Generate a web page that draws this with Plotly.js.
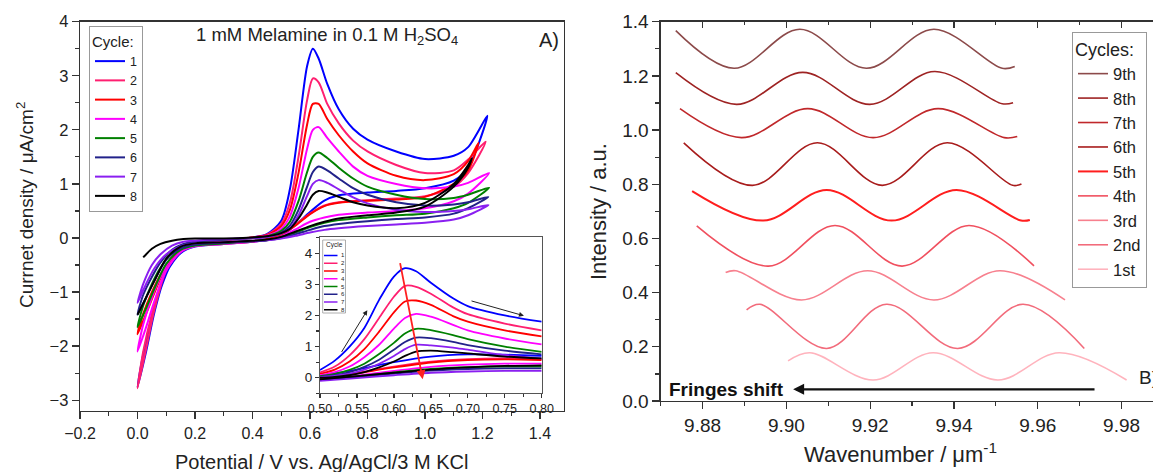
<!DOCTYPE html>
<html><head><meta charset="utf-8">
<script src="https://cdn.plot.ly/plotly-3.0.1.min.js"></script>
<style>html,body{margin:0;padding:0;background:#fff;}#chart{width:1153px;height:472px;}</style>
</head><body><div id="chart"></div>
<script>
// ---------- Panel A: cyclic voltammograms ----------
const cycleLabels = ['1','2','3','4','5','6','7','8'];
const cycleColors = ['#0000ff','#ff1f70','#ff0000','#ff00ff','#008000','#22228a','#8a1ff0','#000000'];

const fwdPotential = [0, 0.02, 0.05, 0.08, 0.12, 0.16, 0.2, 0.3, 0.4, 0.45, 0.5, 0.53, 0.56, 0.59, 0.61, 0.63, 0.66, 0.7, 0.75, 0.8, 0.9, 1.0, 1.1, 1.15];
const fwdC1 = [-2.76, -2.15, -1.5, -0.95, -0.45, -0.22, -0.12, -0.04, 0.01, 0.07, 0.32, 0.9, 2.0, 3.18, 3.5, 3.32, 2.85, 2.38, 2.02, 1.82, 1.6, 1.46, 1.52, 1.68];
const fwdC2 = [-2.78, -2.1, -1.4, -0.85, -0.4, -0.2, -0.11, -0.04, 0.01, 0.06, 0.26, 0.65, 1.5, 2.55, 2.95, 2.88, 2.48, 2.12, 1.8, 1.6, 1.35, 1.2, 1.25, 1.45];
const fwdC3 = [-1.78, -1.4, -1.0, -0.68, -0.35, -0.18, -0.1, -0.04, 0.01, 0.05, 0.22, 0.52, 1.2, 2.1, 2.48, 2.48, 2.2, 1.9, 1.6, 1.38, 1.15, 1.07, 1.18, 1.42];
const fwdC4 = [-2.1, -1.6, -1.1, -0.72, -0.36, -0.18, -0.1, -0.04, 0.0, 0.04, 0.17, 0.4, 0.92, 1.65, 2.0, 2.05, 1.85, 1.6, 1.32, 1.15, 1.0, 0.92, 0.95, 1.02];
const fwdC5 = [-1.65, -1.25, -0.85, -0.55, -0.28, -0.14, -0.08, -0.03, 0.0, 0.03, 0.13, 0.3, 0.68, 1.22, 1.5, 1.58, 1.48, 1.3, 1.1, 0.95, 0.8, 0.72, 0.74, 0.8];
const fwdC6 = [-1.42, -1.05, -0.72, -0.45, -0.22, -0.11, -0.07, -0.03, 0.0, 0.02, 0.1, 0.23, 0.52, 0.95, 1.22, 1.32, 1.25, 1.1, 0.92, 0.8, 0.66, 0.6, 0.62, 0.66];
const fwdC7 = [-1.2, -0.85, -0.5, -0.3, -0.14, -0.07, -0.05, -0.02, 0.0, 0.02, 0.08, 0.18, 0.42, 0.78, 1.0, 1.07, 1.02, 0.9, 0.75, 0.64, 0.52, 0.48, 0.5, 0.53];
const fwdC8 = [null, -0.36, -0.2, -0.11, -0.05, -0.02, -0.01, -0.01, 0.01, 0.03, 0.09, 0.17, 0.36, 0.62, 0.8, 0.87, 0.84, 0.76, 0.66, 0.6, 0.55, 0.65, 1.0, 1.35];

const vertexPotential = [1.217, 1.211, 1.186, 1.223, 1.223, 1.22, 1.221, 1.163];
const vertexCurrent   = [2.26, 1.78, 1.76, 1.2, 0.93, 0.76, 0.61, 1.47];

const revPotential = [1.15, 1.1, 1.0, 0.9, 0.8, 0.7, 0.65, 0.6, 0.55, 0.5, 0.45, 0.4, 0.3, 0.2, 0.15, 0.1, 0.06, 0.03, 0];
const revC1 = [1.3, 1.06, 0.92, 0.87, 0.84, 0.79, 0.69, 0.48, 0.24, 0.04, -0.04, -0.07, -0.11, -0.16, -0.28, -0.65, -1.35, -2.1, -2.76];
const revC2 = [1.2, 0.95, 0.77, 0.73, 0.7, 0.66, 0.6, 0.45, 0.25, 0.06, -0.03, -0.07, -0.11, -0.15, -0.26, -0.6, -1.3, -2.05, -2.78];
const revC3 = [1.25, 1.0, 0.76, 0.71, 0.69, 0.65, 0.59, 0.44, 0.23, 0.06, -0.02, -0.06, -0.1, -0.14, -0.24, -0.52, -1.0, -1.4, -1.78];
const revC4 = [0.82, 0.68, 0.55, 0.5, 0.47, 0.43, 0.38, 0.3, 0.16, 0.03, -0.04, -0.07, -0.11, -0.15, -0.26, -0.6, -1.15, -1.65, -2.1];
const revC5 = [0.65, 0.55, 0.45, 0.42, 0.38, 0.33, 0.28, 0.2, 0.1, 0.02, -0.04, -0.06, -0.1, -0.14, -0.22, -0.48, -0.92, -1.3, -1.65];
const revC6 = [0.55, 0.45, 0.38, 0.35, 0.31, 0.26, 0.22, 0.15, 0.07, 0.0, -0.04, -0.06, -0.09, -0.12, -0.19, -0.4, -0.78, -1.1, -1.42];
const revC7 = [0.42, 0.34, 0.28, 0.25, 0.22, 0.18, 0.15, 0.1, 0.04, -0.01, -0.04, -0.05, -0.08, -0.1, -0.15, -0.3, -0.55, -0.85, -1.2];
const revC8 = [1.3, 0.95, 0.58, 0.47, 0.42, 0.36, 0.3, 0.22, 0.12, 0.02, -0.03, -0.05, -0.08, -0.1, -0.16, -0.38, -0.78, -1.1, -1.42];

// ---------- Inset: zoom of the oxidation peak ----------
const insetFwdPotential = [0.5, 0.52, 0.54, 0.56, 0.58, 0.6, 0.615, 0.63, 0.65, 0.68, 0.7, 0.75, 0.8];
const inFwd1 = [0.25, 0.55, 1.0, 1.6, 2.5, 3.25, 3.52, 3.42, 3.05, 2.55, 2.3, 2.0, 1.8];
const inFwd2 = [0.17, 0.36, 0.72, 1.24, 1.92, 2.6, 2.95, 2.92, 2.7, 2.26, 2.04, 1.74, 1.52];
const inFwd3 = [0.12, 0.26, 0.52, 0.92, 1.48, 2.1, 2.45, 2.48, 2.34, 1.98, 1.8, 1.52, 1.33];
const inFwd4 = [0.08, 0.18, 0.36, 0.66, 1.06, 1.58, 1.92, 2.05, 1.96, 1.7, 1.52, 1.26, 1.07];
const inFwd5 = [0.05, 0.12, 0.25, 0.45, 0.76, 1.12, 1.42, 1.57, 1.53, 1.37, 1.24, 1.0, 0.83];
const inFwd6 = [0.03, 0.08, 0.18, 0.35, 0.58, 0.9, 1.15, 1.29, 1.27, 1.15, 1.05, 0.87, 0.75];
const inFwd7 = [0.02, 0.06, 0.13, 0.26, 0.45, 0.7, 0.92, 1.06, 1.04, 0.97, 0.9, 0.73, 0.62];
const inFwd8 = [0.0, 0.03, 0.08, 0.18, 0.33, 0.52, 0.7, 0.84, 0.87, 0.82, 0.78, 0.68, 0.62];
const insetRevPotential = [0.8, 0.75, 0.7, 0.65, 0.6, 0.55, 0.5];
const inRev1 = [0.7, 0.74, 0.75, 0.68, 0.5, 0.26, 0.06];
const inRev2 = [0.6, 0.62, 0.6, 0.52, 0.36, 0.16, -0.02];
const inRev3 = [0.57, 0.59, 0.57, 0.49, 0.33, 0.14, -0.04];
const inRev4 = [0.45, 0.45, 0.42, 0.35, 0.22, 0.07, -0.06];
const inRev5 = [0.36, 0.36, 0.34, 0.28, 0.17, 0.04, -0.07];
const inRev6 = [0.3, 0.3, 0.28, 0.23, 0.13, 0.02, -0.08];
const inRev7 = [0.22, 0.22, 0.2, 0.16, 0.08, -0.01, -0.1];
const inRev8 = [0.4, 0.38, 0.33, 0.26, 0.16, 0.05, -0.05];

// inset guide arrows: [tailV, tailI, headV, headI]
const peakShiftLine = [0.608, 3.73, 0.639, -0.05];
const scanArrowUp   = [0.528, 0.78, 0.564, 2.17];
const scanArrowDown = [0.703, 2.48, 0.776, 1.99];

// ---------- Panel B: interference fringes ----------
const fringeLabels = ['1st','2nd','3rd','4th','5th','6th','7th','8th','9th'];
const fringeColors = ['#ffb3bd','#f26b7b','#f7808e','#f0505f','#ff1e1e','#a81c1c','#c0282b','#9e2323','#8c4a4a'];
const fringeX1 = [9.9004, 9.9056, 9.9207, 9.935, 9.9505, 9.9651, 9.9812];
const fringeY1 = [0.148, 0.178, 0.0775, 0.178, 0.0775, 0.178, 0.0775];
const fringeX2 = [9.8905, 9.8937, 9.9096, 9.9239, 9.9409, 9.9565, 9.9711];
const fringeY2 = [0.336, 0.357, 0.194, 0.357, 0.194, 0.357, 0.194];
const fringeX3 = [9.8855, 9.8879, 9.9036, 9.9194, 9.9352, 9.951, 9.9665];
const fringeY3 = [0.474, 0.481, 0.373, 0.481, 0.373, 0.481, 0.373];
const fringeX4 = [9.8786, 9.8957, 9.9116, 9.9276, 9.9436, 9.9591];
const fringeY4 = [0.646, 0.498, 0.648, 0.498, 0.648, 0.499];
const fringeX5 = [9.8775, 9.8945, 9.9096, 9.9251, 9.9406, 9.956, 9.9581];
const fringeY5 = [0.775, 0.666, 0.779, 0.666, 0.779, 0.666, 0.668];
const fringeX6 = [9.8755, 9.8919, 9.9074, 9.9229, 9.9384, 9.954, 9.9561];
const fringeY6 = [0.953, 0.796, 0.953, 0.796, 0.953, 0.796, 0.801];
const fringeX7 = [9.8746, 9.8893, 9.9051, 9.9207, 9.9362, 9.952, 9.9551];
const fringeY7 = [1.079, 0.972, 1.079, 0.972, 1.079, 0.972, 0.976];
const fringeX8 = [9.8736, 9.8881, 9.9039, 9.9199, 9.9354, 9.9515, 9.9541];
const fringeY8 = [1.212, 1.095, 1.213, 1.095, 1.216, 1.097, 1.101];
const fringeX9 = [9.8736, 9.8875, 9.9032, 9.9191, 9.9352, 9.9515, 9.9545];
const fringeY9 = [1.367, 1.228, 1.372, 1.228, 1.372, 1.228, 1.235];
const fringeShiftArrow = [9.9739, 0.043, 9.9016, 0.043];

// ---------- build ----------
const W = 1153, H = 472;
const PX = p => p / W, PY = p => 1 - p / H;
const FONT = 'Liberation Sans, Arial, Helvetica, sans-serif';
const INK = '#222';

const fwdC = [fwdC1, fwdC2, fwdC3, fwdC4, fwdC5, fwdC6, fwdC7, fwdC8];
const revC = [revC1, revC2, revC3, revC4, revC5, revC6, revC7, revC8];
const inFwd = [inFwd1, inFwd2, inFwd3, inFwd4, inFwd5, inFwd6, inFwd7, inFwd8];
const inRev = [inRev1, inRev2, inRev3, inRev4, inRev5, inRev6, inRev7, inRev8];
const fringeX = [fringeX1, fringeX2, fringeX3, fringeX4, fringeX5, fringeX6, fringeX7, fringeX8, fringeX9];
const fringeY = [fringeY1, fringeY2, fringeY3, fringeY4, fringeY5, fringeY6, fringeY7, fringeY8, fringeY9];

const traces = [];
cycleLabels.forEach((lab, i) => {
  traces.push({
    type: 'scatter', mode: 'lines', name: lab, legend: 'legend',
    x: fwdPotential.concat([vertexPotential[i]], revPotential),
    y: fwdC[i].concat([vertexCurrent[i]], revC[i]),
    xaxis: 'x', yaxis: 'y',
    line: {color: cycleColors[i], width: 2, shape: 'spline', smoothing: 0.8},
    connectgaps: false, hoverinfo: 'skip'
  });
});
cycleLabels.forEach((lab, i) => {
  traces.push({
    type: 'scatter', mode: 'lines', name: lab, showlegend: false,
    x: insetFwdPotential.concat([null], insetRevPotential),
    y: inFwd[i].concat([null], inRev[i]),
    xaxis: 'x3', yaxis: 'y3',
    line: {color: cycleColors[i], width: 1.8, shape: 'spline', smoothing: 0.8},
    connectgaps: false, hoverinfo: 'skip'
  });
});
fringeLabels.forEach((lab, i) => {
  traces.push({
    type: 'scatter', mode: 'lines', name: lab, legend: 'legend2',
    x: fringeX[i], y: fringeY[i], xaxis: 'x2', yaxis: 'y2',
    line: {color: fringeColors[i], width: i === 4 ? 2 : 1.6, shape: 'spline', smoothing: 1},
    hoverinfo: 'skip'
  });
});
// empty trace so that the top tick axis of panel B is created
traces.push({type: 'scatter', mode: 'lines', x: [], y: [], xaxis: 'x4', yaxis: 'y2', showlegend: false, hoverinfo: 'skip'});

const axBase = {
  showline: true, linecolor: '#333', linewidth: 1.3, mirror: true,
  ticks: 'outside', ticklen: 7, tickwidth: 1.3, tickcolor: '#333',
  showgrid: false, zeroline: false, automargin: false,
  tickfont: {family: FONT, size: 16, color: INK}
};
const minor = (d, len) => ({ticks: 'outside', ticklen: len, tickwidth: 1.2, tickcolor: '#333', dtick: d, showgrid: false});

const layout = {
  width: W, height: H, margin: {l: 0, r: 0, t: 0, b: 0},
  paper_bgcolor: '#fff', plot_bgcolor: '#fff',
  font: {family: FONT, color: INK},
  showlegend: true,
  xaxis: Object.assign({}, axBase, {domain: [PX(80), PX(564)], range: [-0.2, 1.4835], anchor: 'y',
    tick0: 0, dtick: 0.2, tickformat: '.1f', minor: minor(0.1, 4)}),
  yaxis: Object.assign({}, axBase, {domain: [PY(411), PY(21.7)], range: [-3.2, 4], anchor: 'x',
    tick0: 0, dtick: 1, minor: minor(0.5, 4), tickfont: {family: FONT, size: 16.5, color: INK}}),
  xaxis2: Object.assign({}, axBase, {domain: [PX(660.7), 1], range: [9.87, 9.9875], anchor: 'y2',
    tick0: 9.88, dtick: 0.02, tickformat: '.2f', minor: minor(0.01, 4), tickfont: {family: FONT, size: 19, color: INK}}),
  yaxis2: Object.assign({}, axBase, {domain: [PY(401), PY(21.7)], range: [0, 1.4], anchor: 'x2',
    tick0: 0, dtick: 0.2, tickformat: '.1f', minor: minor(0.1, 4), tickfont: {family: FONT, size: 19, color: INK}}),
  xaxis4: {overlaying: 'x2', anchor: 'y2', side: 'top', domain: [PX(660.7), 1], range: [9.87, 9.9875],
    ticks: 'inside', ticklen: 6, tickwidth: 1.2, tickcolor: '#333', tick0: 9.88, dtick: 0.02,
    minor: {ticks: 'inside', ticklen: 3, tickwidth: 1.1, tickcolor: '#333', dtick: 0.01},
    showticklabels: false, showline: false, showgrid: false, zeroline: false, automargin: false},
  xaxis3: Object.assign({}, axBase, {domain: [PX(320), PX(541.7)], range: [0.5, 0.8], anchor: 'y3',
    tick0: 0.5, dtick: 0.05, tickformat: '.2f', ticklen: 4, linewidth: 1.1, linecolor: '#555',
    minor: minor(0.025, 2.5), tickfont: {family: FONT, size: 12.5, color: INK}}),
  yaxis3: Object.assign({}, axBase, {domain: [PY(393.3), PY(237)], range: [-0.5, 4.52], anchor: 'x3',
    tick0: 0, dtick: 1, ticklen: 4, linewidth: 1.1, linecolor: '#555',
    minor: minor(0.5, 2.5), tickfont: {family: FONT, size: 13.5, color: INK}}),
  legend: {x: PX(89), y: PY(26), xanchor: 'left', yanchor: 'top', bgcolor: '#fff',
    bordercolor: '#999', borderwidth: 1, font: {family: FONT, size: 12.5, color: INK},
    title: {text: 'Cycle:', font: {family: FONT, size: 15, color: INK}}, tracegroupgap: 0},
  legend2: {x: PX(1072), y: PY(32), xanchor: 'left', yanchor: 'top', bgcolor: '#fff',
    bordercolor: '#999', borderwidth: 1, font: {family: FONT, size: 16.5, color: INK},
    title: {text: 'Cycles:', font: {family: FONT, size: 18, color: INK}}, traceorder: 'reversed', tracegroupgap: 0},
  annotations: [],
  shapes: []
};

const A = layout.annotations, S = layout.shapes;
const txt = (x, y, text, size, extra) => A.push(Object.assign({xref: 'paper', yref: 'paper', x: x, y: y, text: text,
  xanchor: 'center', yanchor: 'middle', showarrow: false, font: {family: FONT, size: size, color: INK}}, extra || {}));

txt(PX(327), PY(36), '1 mM Melamine in 0.1 M H<sub>2</sub>SO<sub>4</sub>', 18.5);
txt(PX(561), PY(40), 'A)', 20, {xanchor: 'right'});
txt(PX(25), PY(205), 'Currnet density / μA/cm<sup>2</sup>', 19, {textangle: -90});
txt(PX(321), PY(462), 'Potential / V vs. Ag/AgCl/3 M KCl', 20);
txt(PX(598), PY(211), 'Intensity / a.u.', 22, {textangle: -90});
txt(PX(900), PY(453), 'Wavenumber / μm<sup>-1</sup>', 22);

// panel B text + arrow
A.push({xref: 'x2', yref: 'y2', x: 9.8999, y: fringeShiftArrow[1], text: '<b>Fringes shift</b>', xanchor: 'right', yanchor: 'middle',
  showarrow: false, font: {family: FONT, size: 19, color: '#111'}});
A.push({xref: 'x2', yref: 'y2', x: 9.9836, y: 0.085, text: 'B)', xanchor: 'left', yanchor: 'middle', showarrow: false,
  font: {family: FONT, size: 19, color: INK}});
A.push({xref: 'x2', yref: 'y2', axref: 'x2', ayref: 'y2', x: fringeShiftArrow[2], y: fringeShiftArrow[3],
  ax: fringeShiftArrow[0], ay: fringeShiftArrow[1], text: '', showarrow: true, arrowhead: 2, arrowsize: 1,
  arrowwidth: 2.2, arrowcolor: '#111'});

// inset arrows
const arrow = (a, color, w, head) => A.push({xref: 'x3', yref: 'y3', axref: 'x3', ayref: 'y3',
  x: a[2], y: a[3], ax: a[0], ay: a[1], text: '', showarrow: true, arrowhead: head, arrowsize: 1,
  arrowwidth: w, arrowcolor: color});
arrow(peakShiftLine, '#ff2020', 1.8, 2);
arrow(scanArrowUp, '#222', 1, 2);
arrow(scanArrowDown, '#222', 1, 2);

// inset legend (drawn by hand: Plotly's legend rows cannot be this small)
S.push({type: 'rect', xref: 'paper', yref: 'paper', x0: PX(322.7), x1: PX(345.5), y0: PY(313), y1: PY(240),
  fillcolor: '#fff', line: {color: '#999', width: 0.8}});
txt(PX(324), PY(245), 'Cycle', 6.5, {xanchor: 'left'});
cycleLabels.forEach((lab, i) => {
  const py = 255.5 + i * 7.75;
  S.push({type: 'line', xref: 'paper', yref: 'paper', x0: PX(324), x1: PX(337.5), y0: PY(py), y1: PY(py),
    line: {color: cycleColors[i], width: 1.5}});
  txt(PX(339), PY(py), lab, 6, {xanchor: 'left'});
});

Plotly.newPlot('chart', traces, layout, {staticPlot: true, displayModeBar: false});
</script>
</body></html>
